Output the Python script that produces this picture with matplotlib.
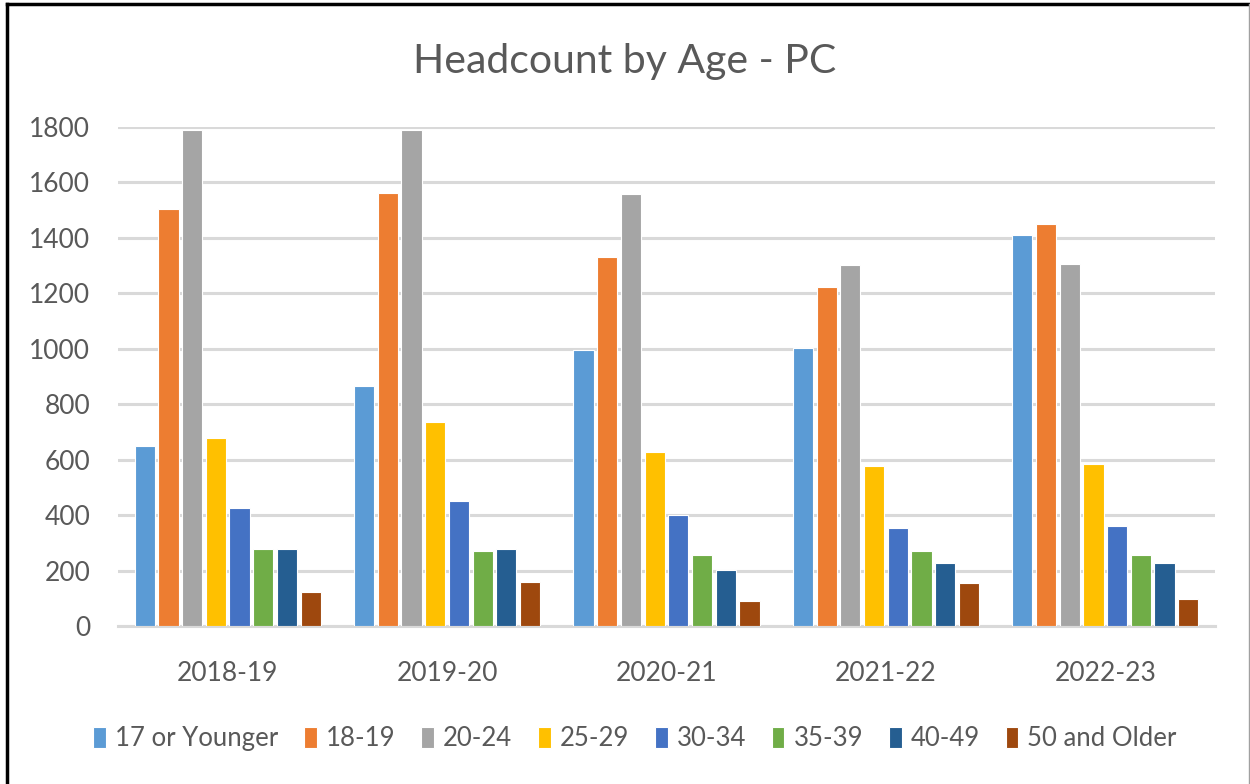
import matplotlib
matplotlib.use("Agg")
import matplotlib.pyplot as plt
import numpy as np

# data
years = ["2018-19", "2019-20", "2020-21", "2021-22", "2022-23"]
age_groups = ["17 or Younger", "18-19", "20-24", "25-29", "30-34", "35-39", "40-49", "50 and Older"]
age_17 = [650, 866, 996, 1002, 1408]
age_18_19 = [1504, 1561, 1330, 1222, 1449]
age_20_24 = [1788, 1788, 1557, 1303, 1306]
age_25_29 = [679, 735, 628, 577, 583]
age_30_34 = [424, 452, 401, 352, 362]
age_35_39 = [276, 272, 255, 272, 255]
age_40_49 = [276, 276, 203, 226, 226]
age_50 = [124, 159, 91, 154, 96]

series = [age_17, age_18_19, age_20_24, age_25_29, age_30_34, age_35_39, age_40_49, age_50]
colors = ["#5B9BD5", "#ED7D31", "#A5A5A5", "#FFC000", "#4472C4", "#70AD47", "#255E91", "#9E480E"]

plt.rcParams['font.family'] = ['Lato', 'DejaVu Sans']
text_grey = "#595959"

fig = plt.figure(figsize=(12.5, 7.84), dpi=100)
ax = fig.add_axes([0.0944, 0.2015, 0.8776, 0.6369])

x = np.arange(len(years))
pitch = 0.108
width = 0.092
for i, (vals, col, name) in enumerate(zip(series, colors, age_groups)):
    offset = (i - (len(series) - 1) / 2) * pitch
    ax.bar(x + offset, vals, width, color=col, label=name, edgecolor="white", linewidth=0.8, zorder=3)

ax.set_xlim(-0.5, len(years) - 0.5)
ax.set_ylim(0, 1800)
ax.set_yticks(range(0, 1801, 200))
ax.yaxis.grid(True, color="#D9D9D9", linewidth=2.2, zorder=0)
ax.set_xticks(x)
ax.set_xticklabels(years)
ax.tick_params(axis="both", length=0, labelsize=19, colors=text_grey)
ax.tick_params(axis="x", pad=25)
ax.tick_params(axis="y", pad=20)
for s in ["top", "right", "left"]:
    ax.spines[s].set_visible(False)
ax.spines["bottom"].set_color("#D9D9D9")
ax.spines["bottom"].set_linewidth(2.2)

fig.text(0.5, 0.921, "Headcount by Age - PC", ha="center", va="center", fontsize=29.5, color=text_grey)

leg = fig.legend(loc="center", bbox_to_anchor=(0.508, 0.058), ncol=8, frameon=False, fontsize=18.5,
                 handlelength=0.5, handleheight=0.9, handletextpad=0.35, columnspacing=1.0)
for t in leg.get_texts():
    t.set_color(text_grey)

# outer frame
fig.add_artist(plt.Line2D([0.0056, 0.0056], [0, 0.9955], color="black", linewidth=2.5, transform=fig.transFigure))
fig.add_artist(plt.Line2D([0.0056, 1], [0.9955, 0.9955], color="black", linewidth=2.5, transform=fig.transFigure))
fig.add_artist(plt.Line2D([0.9994, 0.9994], [0, 0.9955], color="#A0A0A0", linewidth=1, transform=fig.transFigure))

fig.savefig("out.png", dpi=100, facecolor="white")
